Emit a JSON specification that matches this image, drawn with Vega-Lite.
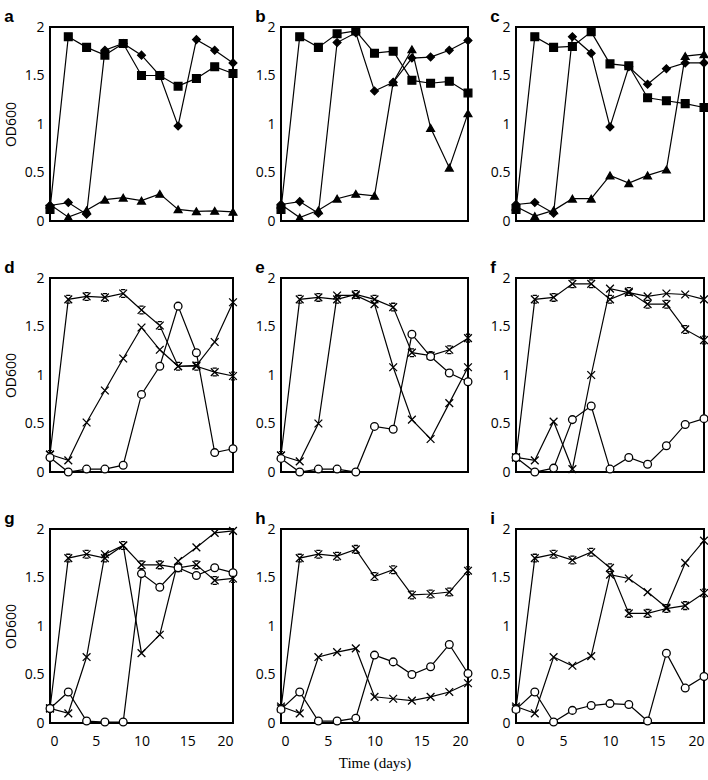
{
"$schema":"https://vega.github.io/schema/vega-lite/v6.json",
"padding":{"left":3,"top":7,"right":2,"bottom":1},
"background":"white",
"data":{"values":[
{"p":"a","s":"sq","d":0,"v":0.12},{"p":"a","s":"sq","d":2,"v":1.90},{"p":"a","s":"sq","d":4,"v":1.79},{"p":"a","s":"sq","d":6,"v":1.71},{"p":"a","s":"sq","d":8,"v":1.83},{"p":"a","s":"sq","d":10,"v":1.50},{"p":"a","s":"sq","d":12,"v":1.50},{"p":"a","s":"sq","d":14,"v":1.39},{"p":"a","s":"sq","d":16,"v":1.47},{"p":"a","s":"sq","d":18,"v":1.59},{"p":"a","s":"sq","d":20,"v":1.52},
{"p":"a","s":"di","d":0,"v":0.16},{"p":"a","s":"di","d":2,"v":0.19},{"p":"a","s":"di","d":4,"v":0.07},{"p":"a","s":"di","d":6,"v":1.76},{"p":"a","s":"di","d":8,"v":1.83},{"p":"a","s":"di","d":10,"v":1.71},{"p":"a","s":"di","d":12,"v":1.50},{"p":"a","s":"di","d":14,"v":0.98},{"p":"a","s":"di","d":16,"v":1.87},{"p":"a","s":"di","d":18,"v":1.76},{"p":"a","s":"di","d":20,"v":1.63},
{"p":"a","s":"tr","d":0,"v":0.17},{"p":"a","s":"tr","d":2,"v":0.04},{"p":"a","s":"tr","d":4,"v":0.11},{"p":"a","s":"tr","d":6,"v":0.22},{"p":"a","s":"tr","d":8,"v":0.24},{"p":"a","s":"tr","d":10,"v":0.21},{"p":"a","s":"tr","d":12,"v":0.28},{"p":"a","s":"tr","d":14,"v":0.12},{"p":"a","s":"tr","d":16,"v":0.10},{"p":"a","s":"tr","d":18,"v":0.105},{"p":"a","s":"tr","d":20,"v":0.095},
{"p":"b","s":"sq","d":0,"v":0.12},{"p":"b","s":"sq","d":2,"v":1.90},{"p":"b","s":"sq","d":4,"v":1.79},{"p":"b","s":"sq","d":6,"v":1.93},{"p":"b","s":"sq","d":8,"v":1.96},{"p":"b","s":"sq","d":10,"v":1.73},{"p":"b","s":"sq","d":12,"v":1.75},{"p":"b","s":"sq","d":14,"v":1.45},{"p":"b","s":"sq","d":16,"v":1.42},{"p":"b","s":"sq","d":18,"v":1.44},{"p":"b","s":"sq","d":20,"v":1.32},
{"p":"b","s":"di","d":0,"v":0.17},{"p":"b","s":"di","d":2,"v":0.20},{"p":"b","s":"di","d":4,"v":0.08},{"p":"b","s":"di","d":6,"v":1.84},{"p":"b","s":"di","d":8,"v":1.94},{"p":"b","s":"di","d":10,"v":1.34},{"p":"b","s":"di","d":12,"v":1.43},{"p":"b","s":"di","d":14,"v":1.68},{"p":"b","s":"di","d":16,"v":1.69},{"p":"b","s":"di","d":18,"v":1.76},{"p":"b","s":"di","d":20,"v":1.86},
{"p":"b","s":"tr","d":0,"v":0.17},{"p":"b","s":"tr","d":2,"v":0.035},{"p":"b","s":"tr","d":4,"v":0.11},{"p":"b","s":"tr","d":6,"v":0.23},{"p":"b","s":"tr","d":8,"v":0.28},{"p":"b","s":"tr","d":10,"v":0.26},{"p":"b","s":"tr","d":12,"v":1.43},{"p":"b","s":"tr","d":14,"v":1.77},{"p":"b","s":"tr","d":16,"v":0.96},{"p":"b","s":"tr","d":18,"v":0.55},{"p":"b","s":"tr","d":20,"v":1.11},
{"p":"c","s":"sq","d":0,"v":0.12},{"p":"c","s":"sq","d":2,"v":1.90},{"p":"c","s":"sq","d":4,"v":1.79},{"p":"c","s":"sq","d":6,"v":1.80},{"p":"c","s":"sq","d":8,"v":1.95},{"p":"c","s":"sq","d":10,"v":1.62},{"p":"c","s":"sq","d":12,"v":1.60},{"p":"c","s":"sq","d":14,"v":1.27},{"p":"c","s":"sq","d":16,"v":1.24},{"p":"c","s":"sq","d":18,"v":1.21},{"p":"c","s":"sq","d":20,"v":1.17},
{"p":"c","s":"di","d":0,"v":0.17},{"p":"c","s":"di","d":2,"v":0.19},{"p":"c","s":"di","d":4,"v":0.08},{"p":"c","s":"di","d":6,"v":1.90},{"p":"c","s":"di","d":8,"v":1.73},{"p":"c","s":"di","d":10,"v":0.97},{"p":"c","s":"di","d":12,"v":1.59},{"p":"c","s":"di","d":14,"v":1.41},{"p":"c","s":"di","d":16,"v":1.57},{"p":"c","s":"di","d":18,"v":1.63},{"p":"c","s":"di","d":20,"v":1.63},
{"p":"c","s":"tr","d":0,"v":0.15},{"p":"c","s":"tr","d":2,"v":0.05},{"p":"c","s":"tr","d":4,"v":0.11},{"p":"c","s":"tr","d":6,"v":0.23},{"p":"c","s":"tr","d":8,"v":0.23},{"p":"c","s":"tr","d":10,"v":0.47},{"p":"c","s":"tr","d":12,"v":0.39},{"p":"c","s":"tr","d":14,"v":0.47},{"p":"c","s":"tr","d":16,"v":0.53},{"p":"c","s":"tr","d":18,"v":1.70},{"p":"c","s":"tr","d":20,"v":1.72},
{"p":"d","s":"st","d":0,"v":0.18},{"p":"d","s":"st","d":2,"v":1.78},{"p":"d","s":"st","d":4,"v":1.81},{"p":"d","s":"st","d":6,"v":1.80},{"p":"d","s":"st","d":8,"v":1.84},{"p":"d","s":"st","d":10,"v":1.67},{"p":"d","s":"st","d":12,"v":1.51},{"p":"d","s":"st","d":14,"v":1.09},{"p":"d","s":"st","d":16,"v":1.09},{"p":"d","s":"st","d":18,"v":1.03},{"p":"d","s":"st","d":20,"v":0.99},
{"p":"d","s":"cr","d":0,"v":0.18},{"p":"d","s":"cr","d":2,"v":0.12},{"p":"d","s":"cr","d":4,"v":0.51},{"p":"d","s":"cr","d":6,"v":0.84},{"p":"d","s":"cr","d":8,"v":1.17},{"p":"d","s":"cr","d":10,"v":1.49},{"p":"d","s":"cr","d":12,"v":1.26},{"p":"d","s":"cr","d":14,"v":1.09},{"p":"d","s":"cr","d":16,"v":1.10},{"p":"d","s":"cr","d":18,"v":1.34},{"p":"d","s":"cr","d":20,"v":1.75},
{"p":"d","s":"ci","d":0,"v":0.15},{"p":"d","s":"ci","d":2,"v":0.0},{"p":"d","s":"ci","d":4,"v":0.03},{"p":"d","s":"ci","d":6,"v":0.03},{"p":"d","s":"ci","d":8,"v":0.07},{"p":"d","s":"ci","d":10,"v":0.80},{"p":"d","s":"ci","d":12,"v":1.09},{"p":"d","s":"ci","d":14,"v":1.71},{"p":"d","s":"ci","d":16,"v":1.23},{"p":"d","s":"ci","d":18,"v":0.20},{"p":"d","s":"ci","d":20,"v":0.24},
{"p":"e","s":"st","d":0,"v":0.17},{"p":"e","s":"st","d":2,"v":1.78},{"p":"e","s":"st","d":4,"v":1.80},{"p":"e","s":"st","d":6,"v":1.78},{"p":"e","s":"st","d":8,"v":1.83},{"p":"e","s":"st","d":10,"v":1.78},{"p":"e","s":"st","d":12,"v":1.70},{"p":"e","s":"st","d":14,"v":1.23},{"p":"e","s":"st","d":16,"v":1.20},{"p":"e","s":"st","d":18,"v":1.26},{"p":"e","s":"st","d":20,"v":1.38},
{"p":"e","s":"cr","d":0,"v":0.17},{"p":"e","s":"cr","d":2,"v":0.11},{"p":"e","s":"cr","d":4,"v":0.50},{"p":"e","s":"cr","d":6,"v":1.82},{"p":"e","s":"cr","d":8,"v":1.82},{"p":"e","s":"cr","d":10,"v":1.73},{"p":"e","s":"cr","d":12,"v":1.08},{"p":"e","s":"cr","d":14,"v":0.54},{"p":"e","s":"cr","d":16,"v":0.34},{"p":"e","s":"cr","d":18,"v":0.71},{"p":"e","s":"cr","d":20,"v":1.08},
{"p":"e","s":"ci","d":0,"v":0.14},{"p":"e","s":"ci","d":2,"v":0.0},{"p":"e","s":"ci","d":4,"v":0.03},{"p":"e","s":"ci","d":6,"v":0.03},{"p":"e","s":"ci","d":8,"v":0.0},{"p":"e","s":"ci","d":10,"v":0.47},{"p":"e","s":"ci","d":12,"v":0.44},{"p":"e","s":"ci","d":14,"v":1.42},{"p":"e","s":"ci","d":16,"v":1.19},{"p":"e","s":"ci","d":18,"v":1.02},{"p":"e","s":"ci","d":20,"v":0.93},
{"p":"f","s":"st","d":0,"v":0.15},{"p":"f","s":"st","d":2,"v":1.78},{"p":"f","s":"st","d":4,"v":1.80},{"p":"f","s":"st","d":6,"v":1.94},{"p":"f","s":"st","d":8,"v":1.94},{"p":"f","s":"st","d":10,"v":1.78},{"p":"f","s":"st","d":12,"v":1.86},{"p":"f","s":"st","d":14,"v":1.73},{"p":"f","s":"st","d":16,"v":1.73},{"p":"f","s":"st","d":18,"v":1.47},{"p":"f","s":"st","d":20,"v":1.36},
{"p":"f","s":"cr","d":0,"v":0.15},{"p":"f","s":"cr","d":2,"v":0.12},{"p":"f","s":"cr","d":4,"v":0.52},{"p":"f","s":"cr","d":6,"v":0.03},{"p":"f","s":"cr","d":8,"v":1.00},{"p":"f","s":"cr","d":10,"v":1.89},{"p":"f","s":"cr","d":12,"v":1.85},{"p":"f","s":"cr","d":14,"v":1.81},{"p":"f","s":"cr","d":16,"v":1.84},{"p":"f","s":"cr","d":18,"v":1.83},{"p":"f","s":"cr","d":20,"v":1.78},
{"p":"f","s":"ci","d":0,"v":0.15},{"p":"f","s":"ci","d":2,"v":0.0},{"p":"f","s":"ci","d":4,"v":0.04},{"p":"f","s":"ci","d":6,"v":0.54},{"p":"f","s":"ci","d":8,"v":0.68},{"p":"f","s":"ci","d":10,"v":0.03},{"p":"f","s":"ci","d":12,"v":0.15},{"p":"f","s":"ci","d":14,"v":0.08},{"p":"f","s":"ci","d":16,"v":0.27},{"p":"f","s":"ci","d":18,"v":0.49},{"p":"f","s":"ci","d":20,"v":0.55},
{"p":"g","s":"st","d":0,"v":0.15},{"p":"g","s":"st","d":2,"v":1.70},{"p":"g","s":"st","d":4,"v":1.74},{"p":"g","s":"st","d":6,"v":1.70},{"p":"g","s":"st","d":8,"v":1.83},{"p":"g","s":"st","d":10,"v":1.63},{"p":"g","s":"st","d":12,"v":1.63},{"p":"g","s":"st","d":14,"v":1.60},{"p":"g","s":"st","d":16,"v":1.63},{"p":"g","s":"st","d":18,"v":1.47},{"p":"g","s":"st","d":20,"v":1.49},
{"p":"g","s":"cr","d":0,"v":0.15},{"p":"g","s":"cr","d":2,"v":0.10},{"p":"g","s":"cr","d":4,"v":0.68},{"p":"g","s":"cr","d":6,"v":1.74},{"p":"g","s":"cr","d":8,"v":1.83},{"p":"g","s":"cr","d":10,"v":0.72},{"p":"g","s":"cr","d":12,"v":0.91},{"p":"g","s":"cr","d":14,"v":1.67},{"p":"g","s":"cr","d":16,"v":1.81},{"p":"g","s":"cr","d":18,"v":1.96},{"p":"g","s":"cr","d":20,"v":1.98},
{"p":"g","s":"ci","d":0,"v":0.15},{"p":"g","s":"ci","d":2,"v":0.32},{"p":"g","s":"ci","d":4,"v":0.02},{"p":"g","s":"ci","d":6,"v":0.01},{"p":"g","s":"ci","d":8,"v":0.01},{"p":"g","s":"ci","d":10,"v":1.54},{"p":"g","s":"ci","d":12,"v":1.40},{"p":"g","s":"ci","d":14,"v":1.60},{"p":"g","s":"ci","d":16,"v":1.52},{"p":"g","s":"ci","d":18,"v":1.60},{"p":"g","s":"ci","d":20,"v":1.55},
{"p":"h","s":"st","d":0,"v":0.15},{"p":"h","s":"st","d":2,"v":1.70},{"p":"h","s":"st","d":4,"v":1.74},{"p":"h","s":"st","d":6,"v":1.72},{"p":"h","s":"st","d":8,"v":1.79},{"p":"h","s":"st","d":10,"v":1.51},{"p":"h","s":"st","d":12,"v":1.58},{"p":"h","s":"st","d":14,"v":1.32},{"p":"h","s":"st","d":16,"v":1.33},{"p":"h","s":"st","d":18,"v":1.35},{"p":"h","s":"st","d":20,"v":1.57},
{"p":"h","s":"cr","d":0,"v":0.17},{"p":"h","s":"cr","d":2,"v":0.10},{"p":"h","s":"cr","d":4,"v":0.68},{"p":"h","s":"cr","d":6,"v":0.73},{"p":"h","s":"cr","d":8,"v":0.77},{"p":"h","s":"cr","d":10,"v":0.27},{"p":"h","s":"cr","d":12,"v":0.25},{"p":"h","s":"cr","d":14,"v":0.23},{"p":"h","s":"cr","d":16,"v":0.27},{"p":"h","s":"cr","d":18,"v":0.32},{"p":"h","s":"cr","d":20,"v":0.41},
{"p":"h","s":"ci","d":0,"v":0.14},{"p":"h","s":"ci","d":2,"v":0.32},{"p":"h","s":"ci","d":4,"v":0.02},{"p":"h","s":"ci","d":6,"v":0.02},{"p":"h","s":"ci","d":8,"v":0.05},{"p":"h","s":"ci","d":10,"v":0.70},{"p":"h","s":"ci","d":12,"v":0.63},{"p":"h","s":"ci","d":14,"v":0.50},{"p":"h","s":"ci","d":16,"v":0.58},{"p":"h","s":"ci","d":18,"v":0.81},{"p":"h","s":"ci","d":20,"v":0.51},
{"p":"i","s":"st","d":0,"v":0.15},{"p":"i","s":"st","d":2,"v":1.70},{"p":"i","s":"st","d":4,"v":1.74},{"p":"i","s":"st","d":6,"v":1.68},{"p":"i","s":"st","d":8,"v":1.76},{"p":"i","s":"st","d":10,"v":1.60},{"p":"i","s":"st","d":12,"v":1.13},{"p":"i","s":"st","d":14,"v":1.13},{"p":"i","s":"st","d":16,"v":1.18},{"p":"i","s":"st","d":18,"v":1.21},{"p":"i","s":"st","d":20,"v":1.34},
{"p":"i","s":"cr","d":0,"v":0.17},{"p":"i","s":"cr","d":2,"v":0.10},{"p":"i","s":"cr","d":4,"v":0.68},{"p":"i","s":"cr","d":6,"v":0.59},{"p":"i","s":"cr","d":8,"v":0.69},{"p":"i","s":"cr","d":10,"v":1.53},{"p":"i","s":"cr","d":12,"v":1.49},{"p":"i","s":"cr","d":14,"v":1.35},{"p":"i","s":"cr","d":16,"v":1.19},{"p":"i","s":"cr","d":18,"v":1.65},{"p":"i","s":"cr","d":20,"v":1.88},
{"p":"i","s":"ci","d":0,"v":0.14},{"p":"i","s":"ci","d":2,"v":0.32},{"p":"i","s":"ci","d":4,"v":0.01},{"p":"i","s":"ci","d":6,"v":0.13},{"p":"i","s":"ci","d":8,"v":0.18},{"p":"i","s":"ci","d":10,"v":0.20},{"p":"i","s":"ci","d":12,"v":0.19},{"p":"i","s":"ci","d":14,"v":0.02},{"p":"i","s":"ci","d":16,"v":0.72},{"p":"i","s":"ci","d":18,"v":0.36},{"p":"i","s":"ci","d":20,"v":0.48}
]},
"columns":3,
"align":"each",
"spacing":{"row":29,"column":13},
"concat":[
{"title":"a","width":183,"height":194,"transform":[{"filter":"datum.p==='a'"}],
 "encoding":{"x":{"field":"d","type":"quantitative","scale":{"domain":[0,20],"nice":false},"axis":null},
  "y":{"field":"v","type":"quantitative","scale":{"domain":[0,2],"nice":false},"axis":{"title":"OD600","values":[0,0.5,1,1.5,2],"format":"~g"}}},
 "layer":[{"mark":{"type":"line","color":"black","strokeWidth":1.2},"encoding":{"detail":{"field":"s"}}},
  {"mark":{"type":"point","opacity":1,"stroke":"black","strokeWidth":1.3,"size":60},"encoding":{"shape":{"field":"s","type":"nominal","legend":null,"scale":{"domain":["sq","di","tr","st","cr","ci"],"range":["square","diamond","triangle-up","M-1,-1L1,1M1,-1L-1,1M-0.55,-1L0.55,-1M-0.55,1L0.55,1","M-1,-1L1,1M1,-1L-1,1","circle"]}},"fill":{"field":"s","type":"nominal","legend":null,"scale":{"domain":["sq","di","tr","st","cr","ci"],"range":["black","black","black","transparent","transparent","white"]}}}}]},
{"title":"b","width":187,"height":194,"transform":[{"filter":"datum.p==='b'"}],
 "encoding":{"x":{"field":"d","type":"quantitative","scale":{"domain":[0,20],"nice":false},"axis":null},
  "y":{"field":"v","type":"quantitative","scale":{"domain":[0,2],"nice":false},"axis":{"title":null,"values":[0,0.5,1,1.5,2],"format":"~g"}}},
 "layer":[{"mark":{"type":"line","color":"black","strokeWidth":1.2},"encoding":{"detail":{"field":"s"}}},
  {"mark":{"type":"point","opacity":1,"stroke":"black","strokeWidth":1.3,"size":60},"encoding":{"shape":{"field":"s","type":"nominal","legend":null,"scale":{"domain":["sq","di","tr","st","cr","ci"],"range":["square","diamond","triangle-up","M-1,-1L1,1M1,-1L-1,1M-0.55,-1L0.55,-1M-0.55,1L0.55,1","M-1,-1L1,1M1,-1L-1,1","circle"]}},"fill":{"field":"s","type":"nominal","legend":null,"scale":{"domain":["sq","di","tr","st","cr","ci"],"range":["black","black","black","transparent","transparent","white"]}}}}]},
{"title":"c","width":188,"height":194,"transform":[{"filter":"datum.p==='c'"}],
 "encoding":{"x":{"field":"d","type":"quantitative","scale":{"domain":[0,20],"nice":false},"axis":null},
  "y":{"field":"v","type":"quantitative","scale":{"domain":[0,2],"nice":false},"axis":{"title":null,"values":[0,0.5,1,1.5,2],"format":"~g"}}},
 "layer":[{"mark":{"type":"line","color":"black","strokeWidth":1.2},"encoding":{"detail":{"field":"s"}}},
  {"mark":{"type":"point","opacity":1,"stroke":"black","strokeWidth":1.3,"size":60},"encoding":{"shape":{"field":"s","type":"nominal","legend":null,"scale":{"domain":["sq","di","tr","st","cr","ci"],"range":["square","diamond","triangle-up","M-1,-1L1,1M1,-1L-1,1M-0.55,-1L0.55,-1M-0.55,1L0.55,1","M-1,-1L1,1M1,-1L-1,1","circle"]}},"fill":{"field":"s","type":"nominal","legend":null,"scale":{"domain":["sq","di","tr","st","cr","ci"],"range":["black","black","black","transparent","transparent","white"]}}}}]},
{"title":"d","width":183,"height":194,"transform":[{"filter":"datum.p==='d'"}],
 "encoding":{"x":{"field":"d","type":"quantitative","scale":{"domain":[0,20],"nice":false},"axis":null},
  "y":{"field":"v","type":"quantitative","scale":{"domain":[0,2],"nice":false},"axis":{"title":"OD600","values":[0,0.5,1,1.5,2],"format":"~g"}}},
 "layer":[{"mark":{"type":"line","color":"black","strokeWidth":1.2},"encoding":{"detail":{"field":"s"}}},
  {"mark":{"type":"point","opacity":1,"stroke":"black","strokeWidth":1.3,"size":60},"encoding":{"shape":{"field":"s","type":"nominal","legend":null,"scale":{"domain":["sq","di","tr","st","cr","ci"],"range":["square","diamond","triangle-up","M-1,-1L1,1M1,-1L-1,1M-0.55,-1L0.55,-1M-0.55,1L0.55,1","M-1,-1L1,1M1,-1L-1,1","circle"]}},"fill":{"field":"s","type":"nominal","legend":null,"scale":{"domain":["sq","di","tr","st","cr","ci"],"range":["black","black","black","transparent","transparent","white"]}}}}]},
{"title":"e","width":187,"height":194,"transform":[{"filter":"datum.p==='e'"}],
 "encoding":{"x":{"field":"d","type":"quantitative","scale":{"domain":[0,20],"nice":false},"axis":null},
  "y":{"field":"v","type":"quantitative","scale":{"domain":[0,2],"nice":false},"axis":{"title":null,"values":[0,0.5,1,1.5,2],"format":"~g"}}},
 "layer":[{"mark":{"type":"line","color":"black","strokeWidth":1.2},"encoding":{"detail":{"field":"s"}}},
  {"mark":{"type":"point","opacity":1,"stroke":"black","strokeWidth":1.3,"size":60},"encoding":{"shape":{"field":"s","type":"nominal","legend":null,"scale":{"domain":["sq","di","tr","st","cr","ci"],"range":["square","diamond","triangle-up","M-1,-1L1,1M1,-1L-1,1M-0.55,-1L0.55,-1M-0.55,1L0.55,1","M-1,-1L1,1M1,-1L-1,1","circle"]}},"fill":{"field":"s","type":"nominal","legend":null,"scale":{"domain":["sq","di","tr","st","cr","ci"],"range":["black","black","black","transparent","transparent","white"]}}}}]},
{"title":"f","width":188,"height":194,"transform":[{"filter":"datum.p==='f'"}],
 "encoding":{"x":{"field":"d","type":"quantitative","scale":{"domain":[0,20],"nice":false},"axis":null},
  "y":{"field":"v","type":"quantitative","scale":{"domain":[0,2],"nice":false},"axis":{"title":null,"values":[0,0.5,1,1.5,2],"format":"~g"}}},
 "layer":[{"mark":{"type":"line","color":"black","strokeWidth":1.2},"encoding":{"detail":{"field":"s"}}},
  {"mark":{"type":"point","opacity":1,"stroke":"black","strokeWidth":1.3,"size":60},"encoding":{"shape":{"field":"s","type":"nominal","legend":null,"scale":{"domain":["sq","di","tr","st","cr","ci"],"range":["square","diamond","triangle-up","M-1,-1L1,1M1,-1L-1,1M-0.55,-1L0.55,-1M-0.55,1L0.55,1","M-1,-1L1,1M1,-1L-1,1","circle"]}},"fill":{"field":"s","type":"nominal","legend":null,"scale":{"domain":["sq","di","tr","st","cr","ci"],"range":["black","black","black","transparent","transparent","white"]}}}}]},
{"title":"g","width":183,"height":194,"transform":[{"filter":"datum.p==='g'"}],
 "encoding":{"x":{"field":"d","type":"quantitative","scale":{"domain":[0,20],"nice":false},"axis":{"values":[0,5,10,15,20],"title":null}},
  "y":{"field":"v","type":"quantitative","scale":{"domain":[0,2],"nice":false},"axis":{"title":"OD600","values":[0,0.5,1,1.5,2],"format":"~g"}}},
 "layer":[{"mark":{"type":"line","color":"black","strokeWidth":1.2},"encoding":{"detail":{"field":"s"}}},
  {"mark":{"type":"point","opacity":1,"stroke":"black","strokeWidth":1.3,"size":60},"encoding":{"shape":{"field":"s","type":"nominal","legend":null,"scale":{"domain":["sq","di","tr","st","cr","ci"],"range":["square","diamond","triangle-up","M-1,-1L1,1M1,-1L-1,1M-0.55,-1L0.55,-1M-0.55,1L0.55,1","M-1,-1L1,1M1,-1L-1,1","circle"]}},"fill":{"field":"s","type":"nominal","legend":null,"scale":{"domain":["sq","di","tr","st","cr","ci"],"range":["black","black","black","transparent","transparent","white"]}}}}]},
{"title":"h","width":187,"height":194,"transform":[{"filter":"datum.p==='h'"}],
 "encoding":{"x":{"field":"d","type":"quantitative","scale":{"domain":[0,20],"nice":false},"axis":{"values":[0,5,10,15,20],"title":"Time (days)","titleFont":"Liberation Serif","titleFontSize":15,"titleFontWeight":"normal","titlePadding":7}},
  "y":{"field":"v","type":"quantitative","scale":{"domain":[0,2],"nice":false},"axis":{"title":null,"values":[0,0.5,1,1.5,2],"format":"~g"}}},
 "layer":[{"mark":{"type":"line","color":"black","strokeWidth":1.2},"encoding":{"detail":{"field":"s"}}},
  {"mark":{"type":"point","opacity":1,"stroke":"black","strokeWidth":1.3,"size":60},"encoding":{"shape":{"field":"s","type":"nominal","legend":null,"scale":{"domain":["sq","di","tr","st","cr","ci"],"range":["square","diamond","triangle-up","M-1,-1L1,1M1,-1L-1,1M-0.55,-1L0.55,-1M-0.55,1L0.55,1","M-1,-1L1,1M1,-1L-1,1","circle"]}},"fill":{"field":"s","type":"nominal","legend":null,"scale":{"domain":["sq","di","tr","st","cr","ci"],"range":["black","black","black","transparent","transparent","white"]}}}}]},
{"title":"i","width":188,"height":194,"transform":[{"filter":"datum.p==='i'"}],
 "encoding":{"x":{"field":"d","type":"quantitative","scale":{"domain":[0,20],"nice":false},"axis":{"values":[0,5,10,15,20],"title":null}},
  "y":{"field":"v","type":"quantitative","scale":{"domain":[0,2],"nice":false},"axis":{"title":null,"values":[0,0.5,1,1.5,2],"format":"~g"}}},
 "layer":[{"mark":{"type":"line","color":"black","strokeWidth":1.2},"encoding":{"detail":{"field":"s"}}},
  {"mark":{"type":"point","opacity":1,"stroke":"black","strokeWidth":1.3,"size":60},"encoding":{"shape":{"field":"s","type":"nominal","legend":null,"scale":{"domain":["sq","di","tr","st","cr","ci"],"range":["square","diamond","triangle-up","M-1,-1L1,1M1,-1L-1,1M-0.55,-1L0.55,-1M-0.55,1L0.55,1","M-1,-1L1,1M1,-1L-1,1","circle"]}},"fill":{"field":"s","type":"nominal","legend":null,"scale":{"domain":["sq","di","tr","st","cr","ci"],"range":["black","black","black","transparent","transparent","white"]}}}}]}
],
"config":{
 "view":{"stroke":"black","strokeWidth":2},
 "axis":{"grid":false,"domain":false,"ticks":false,"labelFont":"Open Sans","labelFontSize":14,"labelColor":"black","labelPadding":6,"titleFont":"Open Sans","titleFontSize":14,"titleFontWeight":"normal","titleColor":"black","titlePadding":6},
 "axisX":{"labelPadding":11},
 "title":{"anchor":"start","fontSize":17,"fontWeight":"bold","font":"Liberation Sans","color":"black","offset":-6}
}
}
